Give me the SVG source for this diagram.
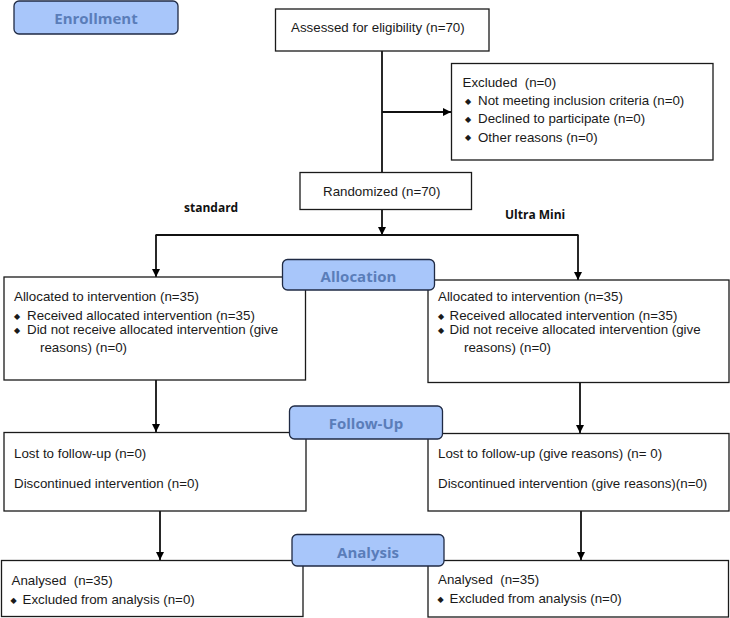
<svg xmlns="http://www.w3.org/2000/svg" width="730" height="618" viewBox="0 0 730 618">
<defs>
<marker id="arr" markerUnits="userSpaceOnUse" markerWidth="10" markerHeight="10" refX="8" refY="4" orient="auto">
<path d="M0,0 L8,4 L0,8 Z" fill="#000"/>
</marker>
<style>
.box{fill:#fff;stroke:#1a1a1a;stroke-width:1.3}
.lab{fill:#a8c6fa;stroke:#1f2a44;stroke-width:1.3}
.lt{font-family:"Open Sans","Liberation Sans",sans-serif;font-weight:bold;font-size:15px;fill:#5a7db9;text-anchor:middle}
.t{font-family:"Liberation Sans",Arial,sans-serif;font-size:13.33px;fill:#1a1a1a;white-space:pre}
.b{font-family:"DejaVu Sans",sans-serif;font-size:8px;fill:#1a1a1a}
.hd{font-family:"Open Sans","Liberation Sans",sans-serif;font-weight:bold;font-size:12px;fill:#111}
.c{fill:none;stroke:#111;stroke-width:1.8}
</style>
</defs>
<rect width="730" height="618" fill="#fff"/>

<g id="connectors">
<line class="c" x1="382" y1="51" x2="382" y2="172"/>
<line class="c" x1="382" y1="112" x2="451" y2="112" marker-end="url(#arr)"/>
<line class="c" x1="382" y1="209" x2="382" y2="235" marker-end="url(#arr)"/>
<line class="c" x1="155.5" y1="235" x2="578.5" y2="235"/>
<line class="c" x1="156" y1="235" x2="156" y2="277" marker-end="url(#arr)"/>
<line class="c" x1="578" y1="235" x2="578" y2="280" marker-end="url(#arr)"/>
<line class="c" x1="156" y1="380" x2="156" y2="432" marker-end="url(#arr)"/>
<line class="c" x1="580" y1="383" x2="580" y2="433" marker-end="url(#arr)"/>
<line class="c" x1="160" y1="511" x2="160" y2="560" marker-end="url(#arr)"/>
<line class="c" x1="581" y1="511" x2="581" y2="560" marker-end="url(#arr)"/>
</g>

<g id="assessed">
<rect class="box" x="275.5" y="9" width="213.5" height="42"/>
<text class="t" x="291" y="32">Assessed for eligibility (n=70)</text>
</g>

<g id="excluded">
<rect class="box" x="451.5" y="63.5" width="261.5" height="96.5"/>
<text class="t" x="462.5" y="87">Excluded  (n=0)</text>
<text class="b" x="465" y="103.5">◆</text>
<text class="t" x="478" y="105">Not meeting inclusion criteria (n=0)</text>
<text class="b" x="465" y="121.5">◆</text>
<text class="t" x="478" y="123">Declined to participate (n=0)</text>
<text class="b" x="465" y="140">◆</text>
<text class="t" x="478" y="141.5">Other reasons (n=0)</text>
</g>

<g id="randomized">
<rect class="box" x="300" y="172.5" width="171.5" height="37"/>
<text class="t" x="323" y="196">Randomized (n=70)</text>
</g>

<g id="arm-labels">
<text class="hd" x="184" y="211.5">standard</text>
<text class="hd" x="505" y="219">Ultra Mini</text>
</g>

<g id="alloc-left">
<rect class="box" x="4" y="277" width="301.5" height="103"/>
<text class="t" x="14" y="300.5">Allocated to intervention (n=35)</text>
<text class="b" x="14" y="318.5">◆</text>
<text class="t" x="27" y="320">Received allocated intervention (n=35)</text>
<text class="b" x="14" y="332.5">◆</text>
<text class="t" x="27" y="334">Did not receive allocated intervention (give</text>
<text class="t" x="40" y="351.5">reasons) (n=0)</text>
</g>

<g id="alloc-right">
<rect class="box" x="428" y="280" width="301" height="102.5"/>
<text class="t" x="438" y="300.5">Allocated to intervention (n=35)</text>
<text class="b" x="438" y="318.5">◆</text>
<text class="t" x="449.5" y="320">Received allocated intervention (n=35)</text>
<text class="b" x="438" y="332.5">◆</text>
<text class="t" x="449.5" y="334">Did not receive allocated intervention (give</text>
<text class="t" x="464" y="351.5">reasons) (n=0)</text>
</g>

<g id="follow-left">
<rect class="box" x="4" y="432.5" width="302" height="78.5"/>
<text class="t" x="14" y="458">Lost to follow-up (n=0)</text>
<text class="t" x="14" y="488">Discontinued intervention (n=0)</text>
</g>

<g id="follow-right">
<rect class="box" x="428" y="433.5" width="301" height="77.5"/>
<text class="t" x="438" y="457.5">Lost to follow-up (give reasons) (n= 0)</text>
<text class="t" x="438" y="488">Discontinued intervention (give reasons)(n=0)</text>
</g>

<g id="analysis-left">
<rect class="box" x="1.5" y="560.5" width="301.5" height="56"/>
<text class="t" x="11.5" y="585">Analysed  (n=35)</text>
<text class="b" x="10.5" y="602.5">◆</text>
<text class="t" x="22.5" y="604">Excluded from analysis (n=0)</text>
</g>

<g id="analysis-right">
<rect class="box" x="428" y="560.5" width="300.5" height="56.5"/>
<text class="t" x="438" y="584">Analysed  (n=35)</text>
<text class="b" x="437.5" y="601.5">◆</text>
<text class="t" x="449.5" y="603">Excluded from analysis (n=0)</text>
</g>

<g id="enrollment">
<rect class="lab" x="14" y="1" width="164" height="33" rx="5"/>
<text class="lt" x="96" y="24">Enrollment</text>
</g>

<g id="allocation">
<rect class="lab" x="282.5" y="259.5" width="152" height="30.5" rx="5"/>
<text class="lt" x="358.5" y="282">Allocation</text>
</g>

<g id="follow-up">
<rect class="lab" x="289.5" y="406" width="153" height="33" rx="5"/>
<text class="lt" x="366" y="429">Follow-Up</text>
</g>

<g id="analysis">
<rect class="lab" x="292" y="534.5" width="152" height="31.5" rx="5"/>
<text class="lt" x="368" y="557.5">Analysis</text>
</g>
</svg>
